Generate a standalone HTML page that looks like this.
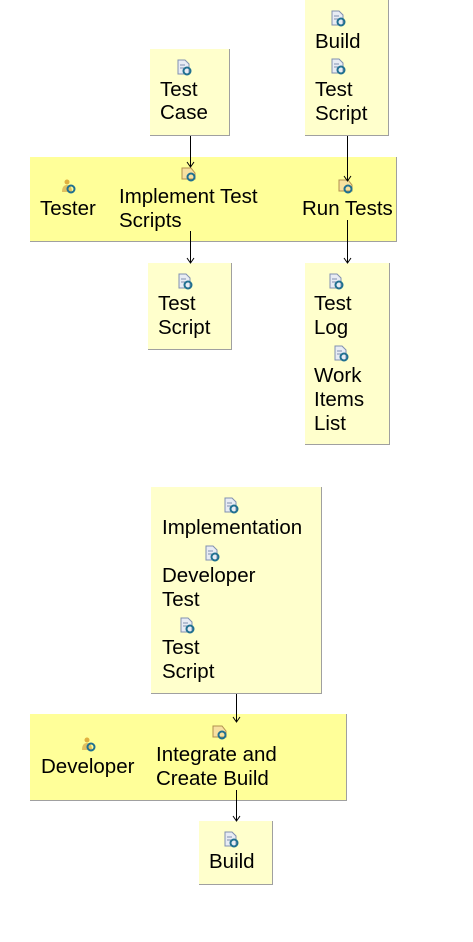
<!DOCTYPE html>
<html><head><style>
body{margin:0;width:473px;height:942px;background:#fff;position:relative;font-family:"Liberation Sans",sans-serif;overflow:hidden}
.b{position:absolute;background:#ffffcc;border-right:1px solid #a0a0a0;border-bottom:1px solid #a0a0a0;box-sizing:border-box}
.band{position:absolute;background:#ffff99;border-right:1px solid #a0a0a0;border-bottom:1px solid #a0a0a0;box-sizing:border-box}
.t{position:absolute;font-size:20.5px;line-height:22px;color:#000;white-space:nowrap}
svg.c{position:absolute;left:0;top:0}
</style></head><body>
<div class="b" style="left:305px;top:0;width:84px;height:136px"></div>
<div class="b" style="left:150px;top:49px;width:80px;height:87px"></div>
<div class="band" style="left:30px;top:157px;width:367px;height:85px"></div>
<div class="b" style="left:148px;top:263px;width:84px;height:87px"></div>
<div class="b" style="left:305px;top:263px;width:85px;height:182px"></div>
<div class="b" style="left:151px;top:487px;width:171px;height:207px"></div>
<div class="band" style="left:30px;top:714px;width:317px;height:87px"></div>
<div class="b" style="left:199px;top:821px;width:74px;height:64px"></div>

<svg class="c" width="473" height="942">
<defs>
<g id="doc"><path d="M1 0h7l4 4v10H1z" fill="#e8ecf4" stroke="#8090b0" stroke-width="1"/><line x1="3" y1="5" x2="8" y2="5" stroke="#8090b0"/><line x1="3" y1="8" x2="9" y2="8" stroke="#8090b0"/><circle cx="10" cy="11" r="3.5" fill="none" stroke="#207090" stroke-width="2"/></g>
<g id="task"><path d="M0 2h9l4 5v6H0z" fill="#f8e0a0" stroke="#b09050"/><circle cx="9" cy="11" r="3.5" fill="none" stroke="#207090" stroke-width="2"/></g>
<g id="role"><circle cx="6" cy="3" r="2.5" fill="#e0b040"/><path d="M1 13c0-5 2-7 5-7s5 2 5 7z" fill="#e0c060"/><circle cx="10" cy="10" r="3.5" fill="none" stroke="#207090" stroke-width="2"/></g>
</defs>
<use href="#doc" x="331" y="11"/><use href="#doc" x="331" y="59"/>
<use href="#doc" x="177" y="60"/>
<use href="#role" x="61" y="179"/>
<use href="#task" x="182" y="166"/>
<use href="#task" x="339" y="178"/>
<use href="#doc" x="178" y="274"/>
<use href="#doc" x="329" y="274"/><use href="#doc" x="334" y="346"/>
<use href="#doc" x="224" y="498"/><use href="#doc" x="205" y="546"/><use href="#doc" x="180" y="618"/>
<use href="#role" x="81" y="737"/>
<use href="#task" x="213" y="724"/>
<use href="#doc" x="224" y="832"/>
<g stroke="#000" stroke-width="1" fill="none">
<line x1="190.5" y1="136" x2="190.5" y2="167"/><path d="M187 162l3.5 5 3.5-5"/>
<line x1="347.5" y1="136" x2="347.5" y2="181"/><path d="M344 176l3.5 5 3.5-5"/>
<line x1="190.5" y1="231" x2="190.5" y2="263"/><path d="M187 258l3.5 5 3.5-5"/>
<line x1="347.5" y1="220" x2="347.5" y2="263"/><path d="M344 258l3.5 5 3.5-5"/>
<line x1="236.5" y1="694" x2="236.5" y2="722"/><path d="M233 717l3.5 5 3.5-5"/>
<line x1="236.5" y1="790" x2="236.5" y2="821"/><path d="M233 816l3.5 5 3.5-5"/>
</g>
</svg>

<div class="t" style="left:315px;top:31px">Build</div>
<div class="t" style="left:315px;top:79px">Test</div>
<div class="t" style="left:315px;top:103px">Script</div>
<div class="t" style="left:160px;top:79px">Test</div>
<div class="t" style="left:160px;top:102px">Case</div>
<div class="t" style="left:40px;top:198px">Tester</div>
<div class="t" style="left:119px;top:186px">Implement Test</div>
<div class="t" style="left:119px;top:210px">Scripts</div>
<div class="t" style="left:302px;top:198px">Run Tests</div>
<div class="t" style="left:158px;top:293px">Test</div>
<div class="t" style="left:158px;top:317px">Script</div>
<div class="t" style="left:314px;top:293px">Test</div>
<div class="t" style="left:314px;top:317px">Log</div>
<div class="t" style="left:314px;top:365px">Work</div>
<div class="t" style="left:314px;top:389px">Items</div>
<div class="t" style="left:314px;top:413px">List</div>
<div class="t" style="left:162px;top:517px">Implementation</div>
<div class="t" style="left:162px;top:565px">Developer</div>
<div class="t" style="left:162px;top:589px">Test</div>
<div class="t" style="left:162px;top:637px">Test</div>
<div class="t" style="left:162px;top:661px">Script</div>
<div class="t" style="left:41px;top:756px">Developer</div>
<div class="t" style="left:156px;top:744px">Integrate and</div>
<div class="t" style="left:156px;top:768px">Create Build</div>
<div class="t" style="left:209px;top:851px">Build</div>
</body></html>
